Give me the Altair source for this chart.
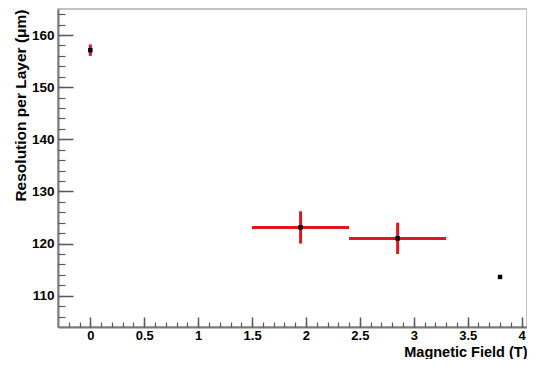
import altair as alt
import pandas as pd

# ---- data ----
field_T = [0.0, 1.95, 2.85, 3.80]
resolution_um = [157.1, 123.1, 121.0, 113.6]
field_lo = [0.0, 1.50, 2.40, 3.80]
field_hi = [0.0, 2.40, 3.30, 3.80]
res_lo = [156.0, 120.0, 118.0, 113.6]
res_hi = [158.2, 126.2, 124.0, 113.6]

x_major = [0, 0.5, 1, 1.5, 2, 2.5, 3, 3.5, 4]
x_minor = [round(i * 0.1, 1) for i in range(-2, 41)]
y_major = [110, 120, 130, 140, 150, 160]
y_minor = list(range(106, 165, 2))

df = pd.DataFrame({
    "field": field_T, "res": resolution_um,
    "flo": field_lo, "fhi": field_hi,
    "rlo": res_lo, "rhi": res_hi,
})

RED = "#e3151c"
FONT = "Liberation Sans"
TICKC = "#5a5a5a"

xscale = alt.Scale(domain=[-0.3, 4.05], nice=False, zero=False)
yscale = alt.Scale(domain=[104, 165], nice=False, zero=False)

label_x = alt.Axis(orient="bottom", values=x_major, format="~g", ticks=False,
                   domain=True, domainColor="#7a7a7a", domainWidth=2, grid=False,
                   labelFont=FONT, labelFontWeight="bold", labelFontSize=13,
                   labelColor="black", labelPadding=2,
                   title="Magnetic Field (T)", titleFont=FONT, titleFontWeight="bold",
                   titleFontSize=14.5, titleColor="black", titleAnchor="end",
                   titleBaseline="alphabetic", titleY=29)
label_y = alt.Axis(orient="left", values=y_major, format="d", ticks=False,
                   domain=True, domainColor="#7a7a7a", domainWidth=2, grid=False,
                   labelFont=FONT, labelFontWeight="bold", labelFontSize=13.5,
                   labelColor="black", labelPadding=4,
                   title="Resolution per Layer (μm)", titleFont=FONT, titleFontWeight="bold",
                   titleFontSize=15.5, titleColor="black", titleAnchor="end", titlePadding=3)

major_x = alt.Axis(orient="bottom", values=x_major, offset=-10, tickSize=10, tickWidth=1.5,
                   tickColor=TICKC, labels=False, domain=False, grid=False, title="")
major_y = alt.Axis(orient="left", values=y_major, offset=-15, tickSize=15, tickWidth=1.5,
                   tickColor=TICKC, labels=False, domain=False, grid=False, title="")
minor_x = alt.Axis(orient="bottom", values=x_minor, offset=-5, tickSize=5, tickWidth=1.2,
                   tickColor=TICKC, labels=False, domain=False, grid=False, title="")
minor_y = alt.Axis(orient="left", values=y_minor, offset=-7, tickSize=7, tickWidth=1.2,
                   tickColor=TICKC, labels=False, domain=False, grid=False, title="")

base = alt.Chart(df)

hbar = base.mark_rule(color=RED, strokeWidth=3).encode(
    x=alt.X("flo:Q", scale=xscale, axis=label_x),
    x2="fhi:Q",
    y=alt.Y("res:Q", scale=yscale, axis=label_y),
)
vbar = base.mark_rule(color=RED, strokeWidth=3).encode(
    x=alt.X("field:Q", scale=xscale, axis=major_x),
    y=alt.Y("rlo:Q", scale=yscale, axis=major_y),
    y2="rhi:Q",
)
pts = base.mark_square(color="black", size=20, opacity=1).encode(
    x=alt.X("field:Q", scale=xscale, axis=minor_x),
    y=alt.Y("res:Q", scale=yscale, axis=minor_y),
)

chart = alt.layer(hbar, vbar, pts).resolve_axis(
    x="independent", y="independent"
).properties(
    width=469, height=318, autosize="none",
    padding={"left": 50, "top": 1, "right": 0, "bottom": 32},
).configure_view(stroke="#c4c4c4", strokeWidth=2)

chart.save("out.html", embed_options={"renderer": "svg", "actions": False})
